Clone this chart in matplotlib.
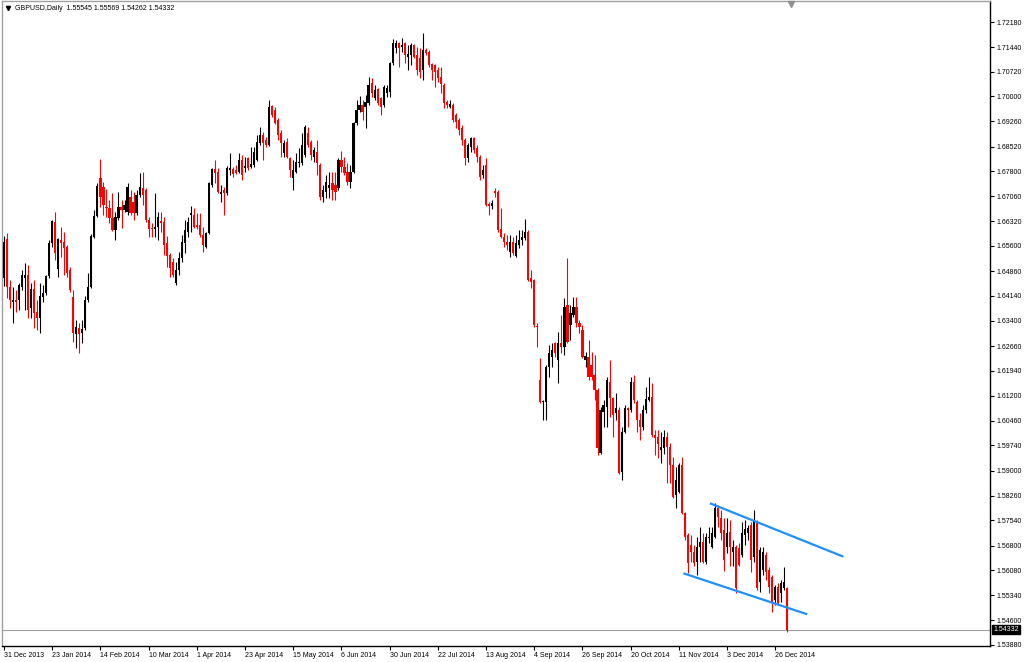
import matplotlib
matplotlib.use("Agg")
import matplotlib.pyplot as plt
from matplotlib.patches import Rectangle
from matplotlib.lines import Line2D
from matplotlib.transforms import blended_transform_factory

plt.rcParams['font.family'] = ['Liberation Sans', 'DejaVu Sans']

# ---------------- data (GBPUSD daily) ----------------
opens = [
    1.6466, 1.6580, 1.6439, 1.6395, 1.6401, 1.6401, 1.6439, 1.6466, 1.6475, 1.6378,
    1.6434, 1.6366, 1.6348, 1.6410, 1.6422, 1.6472, 1.6569, 1.6630, 1.6492, 1.6578,
    1.6572, 1.6557, 1.6489, 1.6410, 1.6301, 1.6319, 1.6304, 1.6319, 1.6401, 1.6439,
    1.6586, 1.6648, 1.6760, 1.6733, 1.6674, 1.6672, 1.6642, 1.6607, 1.6642, 1.6674,
    1.6666, 1.6660, 1.6704, 1.6689, 1.6657, 1.6710, 1.6730, 1.6724, 1.6636, 1.6613,
    1.6610, 1.6616, 1.6633, 1.6630, 1.6569, 1.6533, 1.6513, 1.6451, 1.6489, 1.6525,
    1.6569, 1.6601, 1.6651, 1.6651, 1.6622, 1.6622, 1.6592, 1.6557, 1.6598, 1.6739,
    1.6786, 1.6777, 1.6713, 1.6724, 1.6716, 1.6783, 1.6786, 1.6783, 1.6777, 1.6813,
    1.6789, 1.6818, 1.6792, 1.6798, 1.6813, 1.6862, 1.6886, 1.6871, 1.6857, 1.6971,
    1.6959, 1.6930, 1.6892, 1.6833, 1.6865, 1.6818, 1.6760, 1.6777, 1.6804, 1.6804,
    1.6827, 1.6892, 1.6865, 1.6821, 1.6836, 1.6798, 1.6704, 1.6719, 1.6730, 1.6745,
    1.6739, 1.6730, 1.6813, 1.6792, 1.6777, 1.6748, 1.6777, 1.6921, 1.6959, 1.6974,
    1.6968, 1.6980, 1.7039, 1.6995, 1.7021, 1.6995, 1.6974, 1.7009, 1.7012, 1.7097,
    1.7142, 1.7156, 1.7145, 1.7156, 1.7115, 1.7121, 1.7150, 1.7121, 1.7112, 1.7077,
    1.7136, 1.7130, 1.7095, 1.7092, 1.7077, 1.7056, 1.7033, 1.6983, 1.6968, 1.6974,
    1.6945, 1.6930, 1.6907, 1.6871, 1.6818, 1.6851, 1.6877, 1.6848, 1.6821, 1.6768,
    1.6798, 1.6683, 1.6677, 1.6722, 1.6719, 1.6610, 1.6586, 1.6572, 1.6542, 1.6572,
    1.6531, 1.6563, 1.6578, 1.6583, 1.6601, 1.6466, 1.6460, 1.6325, 1.6166, 1.6102,
    1.6102, 1.6204, 1.6234, 1.6275, 1.6225, 1.6275, 1.6263, 1.6387, 1.6328, 1.6357,
    1.6381, 1.6334, 1.6313, 1.6225, 1.6234, 1.6210, 1.6181, 1.6137, 1.5952, 1.6072,
    1.6087, 1.6160, 1.6113, 1.6069, 1.6078, 1.5896, 1.6013, 1.6084, 1.6078, 1.6160,
    1.6102, 1.6049, 1.6028, 1.6078, 1.6107, 1.6116, 1.6005, 1.5999, 1.5961, 1.5966,
    1.5999, 1.5969, 1.5917, 1.5829, 1.5837, 1.5917, 1.5776, 1.5711, 1.5682, 1.5661,
    1.5632, 1.5676, 1.5690, 1.5632, 1.5702, 1.5676, 1.5705, 1.5790, 1.5761, 1.5726,
    1.5676, 1.5720, 1.5661, 1.5676, 1.5673, 1.5652, 1.5711, 1.5717, 1.5740, 1.5646,
    1.5749, 1.5573, 1.5608, 1.5652, 1.5608, 1.5588, 1.5520, 1.5558, 1.5541, 1.5555,
    1.55545,
]
highs = [
    1.6589, 1.6598, 1.6460, 1.6439, 1.6431, 1.6451, 1.6489, 1.6510, 1.6504, 1.6451,
    1.6460, 1.6401, 1.6451, 1.6445, 1.6475, 1.6578, 1.6636, 1.6660, 1.6583, 1.6616,
    1.6601, 1.6563, 1.6498, 1.6431, 1.6342, 1.6334, 1.6342, 1.6413, 1.6481, 1.6595,
    1.6666, 1.6745, 1.6816, 1.6748, 1.6727, 1.6695, 1.6716, 1.6660, 1.6719, 1.6695,
    1.6695, 1.6745, 1.6724, 1.6719, 1.6724, 1.6774, 1.6777, 1.6730, 1.6645, 1.6627,
    1.6716, 1.6660, 1.6660, 1.6645, 1.6589, 1.6539, 1.6525, 1.6513, 1.6542, 1.6592,
    1.6636, 1.6645, 1.6677, 1.6672, 1.6657, 1.6657, 1.6616, 1.6601, 1.6748, 1.6789,
    1.6813, 1.6789, 1.6739, 1.6733, 1.6795, 1.6833, 1.6792, 1.6798, 1.6833, 1.6827,
    1.6821, 1.6821, 1.6851, 1.6851, 1.6886, 1.6909, 1.6895, 1.6880, 1.6989, 1.6974,
    1.6968, 1.6936, 1.6901, 1.6871, 1.6877, 1.6821, 1.6813, 1.6833, 1.6848, 1.6892,
    1.6915, 1.6909, 1.6871, 1.6851, 1.6871, 1.6804, 1.6739, 1.6768, 1.6777, 1.6777,
    1.6777, 1.6818, 1.6839, 1.6821, 1.6804, 1.6798, 1.6924, 1.6989, 1.7001, 1.6989,
    1.7004, 1.7056, 1.7053, 1.7033, 1.7024, 1.6998, 1.7033, 1.7033, 1.7100, 1.7168,
    1.7165, 1.7159, 1.7171, 1.7159, 1.7150, 1.7156, 1.7153, 1.7145, 1.7142, 1.7186,
    1.7142, 1.7136, 1.7097, 1.7095, 1.7086, 1.7086, 1.7039, 1.6989, 1.6989, 1.6980,
    1.6951, 1.6936, 1.6915, 1.6877, 1.6862, 1.6880, 1.6880, 1.6857, 1.6827, 1.6798,
    1.6818, 1.6689, 1.6695, 1.6730, 1.6724, 1.6672, 1.6598, 1.6592, 1.6592, 1.6586,
    1.6592, 1.6607, 1.6607, 1.6639, 1.6607, 1.6489, 1.6463, 1.6334, 1.6231, 1.6107,
    1.6210, 1.6269, 1.6275, 1.6278, 1.6307, 1.6357, 1.6407, 1.6525, 1.6387, 1.6410,
    1.6410, 1.6342, 1.6328, 1.6249, 1.6284, 1.6249, 1.6240, 1.6143, 1.6087, 1.6107,
    1.6175, 1.6225, 1.6116, 1.6128, 1.6087, 1.6028, 1.6093, 1.6087, 1.6175, 1.6181,
    1.6107, 1.6069, 1.6093, 1.6146, 1.6175, 1.6157, 1.6019, 1.6019, 1.6013, 1.6019,
    1.6013, 1.5981, 1.5940, 1.5911, 1.5923, 1.5940, 1.5778, 1.5717, 1.5711, 1.5682,
    1.5705, 1.5734, 1.5717, 1.5717, 1.5734, 1.5734, 1.5805, 1.5799, 1.5784, 1.5761,
    1.5761, 1.5755, 1.5696, 1.5682, 1.5687, 1.5749, 1.5755, 1.5740, 1.5749, 1.5784,
    1.5755, 1.5676, 1.5676, 1.5661, 1.5617, 1.5593, 1.5564, 1.5570, 1.5579, 1.5617,
    1.55569,
]
lows = [
    1.6442, 1.6407, 1.6378, 1.6334, 1.6366, 1.6372, 1.6431, 1.6372, 1.6348, 1.6348,
    1.6319, 1.6313, 1.6304, 1.6395, 1.6416, 1.6466, 1.6557, 1.6519, 1.6469, 1.6528,
    1.6475, 1.6469, 1.6425, 1.6278, 1.6260, 1.6246, 1.6275, 1.6313, 1.6395, 1.6437,
    1.6583, 1.6645, 1.6674, 1.6651, 1.6645, 1.6627, 1.6604, 1.6578, 1.6636, 1.6613,
    1.6660, 1.6651, 1.6651, 1.6636, 1.6651, 1.6704, 1.6680, 1.6630, 1.6586, 1.6586,
    1.6586, 1.6578, 1.6601, 1.6533, 1.6498, 1.6469, 1.6469, 1.6445, 1.6475, 1.6513,
    1.6539, 1.6586, 1.6601, 1.6613, 1.6610, 1.6586, 1.6542, 1.6554, 1.6595, 1.6733,
    1.6745, 1.6716, 1.6689, 1.6651, 1.6710, 1.6768, 1.6762, 1.6771, 1.6774, 1.6754,
    1.6777, 1.6783, 1.6789, 1.6792, 1.6810, 1.6857, 1.6813, 1.6851, 1.6854, 1.6939,
    1.6918, 1.6871, 1.6821, 1.6821, 1.6818, 1.6762, 1.6724, 1.6774, 1.6792, 1.6798,
    1.6821, 1.6851, 1.6813, 1.6807, 1.6768, 1.6695, 1.6689, 1.6701, 1.6701, 1.6695,
    1.6695, 1.6724, 1.6777, 1.6768, 1.6739, 1.6730, 1.6774, 1.6915, 1.6953, 1.6930,
    1.6907, 1.6974, 1.6998, 1.6989, 1.6974, 1.6945, 1.6968, 1.6998, 1.6998, 1.7092,
    1.7127, 1.7086, 1.7130, 1.7097, 1.7077, 1.7092, 1.7112, 1.7062, 1.7053, 1.7048,
    1.7121, 1.7086, 1.7048, 1.7027, 1.7042, 1.7009, 1.6965, 1.6965, 1.6965, 1.6924,
    1.6907, 1.6886, 1.6857, 1.6798, 1.6807, 1.6836, 1.6833, 1.6807, 1.6754, 1.6760,
    1.6677, 1.6651, 1.6669, 1.6704, 1.6601, 1.6583, 1.6557, 1.6548, 1.6528, 1.6533,
    1.6528, 1.6554, 1.6563, 1.6578, 1.6457, 1.6437, 1.6322, 1.6263, 1.6099, 1.6049,
    1.6049, 1.6175, 1.6204, 1.6234, 1.6157, 1.6246, 1.6240, 1.6275, 1.6284, 1.6351,
    1.6322, 1.6304, 1.6231, 1.6204, 1.6166, 1.6166, 1.6107, 1.5946, 1.5949, 1.6028,
    1.6028, 1.6058, 1.5999, 1.6049, 1.5890, 1.5872, 1.6011, 1.6028, 1.6072, 1.6099,
    1.6013, 1.5990, 1.6019, 1.6069, 1.6104, 1.5999, 1.5946, 1.5937, 1.5923, 1.5949,
    1.5864, 1.5864, 1.5820, 1.5790, 1.5834, 1.5773, 1.5696, 1.5599, 1.5632, 1.5620,
    1.5593, 1.5632, 1.5629, 1.5626, 1.5687, 1.5673, 1.5702, 1.5734, 1.5696, 1.5605,
    1.5658, 1.5620, 1.5620, 1.5541, 1.5620, 1.5646, 1.5682, 1.5696, 1.5602, 1.5632,
    1.5549, 1.5543, 1.5593, 1.5579, 1.5541, 1.5485, 1.5505, 1.5505, 1.5514, 1.5549,
    1.54262,
]
closes = [
    1.6572, 1.6439, 1.6401, 1.6401, 1.6395, 1.6445, 1.6475, 1.6475, 1.6372, 1.6434,
    1.6363, 1.6348, 1.6413, 1.6422, 1.6472, 1.6569, 1.6633, 1.6539, 1.6580, 1.6569,
    1.6554, 1.6480, 1.6431, 1.6304, 1.6322, 1.6301, 1.6316, 1.6401, 1.6439, 1.6589,
    1.6648, 1.6736, 1.6704, 1.6680, 1.6672, 1.6642, 1.6607, 1.6645, 1.6674, 1.6666,
    1.6680, 1.6733, 1.6657, 1.6657, 1.6710, 1.6733, 1.6710, 1.6636, 1.6610, 1.6610,
    1.6616, 1.6645, 1.6627, 1.6563, 1.6531, 1.6495, 1.6475, 1.6489, 1.6525, 1.6572,
    1.6607, 1.6630, 1.6657, 1.6616, 1.6616, 1.6592, 1.6563, 1.6598, 1.6745, 1.6786,
    1.6774, 1.6719, 1.6719, 1.6716, 1.6789, 1.6789, 1.6771, 1.6774, 1.6813, 1.6768,
    1.6795, 1.6789, 1.6801, 1.6836, 1.6865, 1.6886, 1.6862, 1.6857, 1.6968, 1.6945,
    1.6921, 1.6886, 1.6862, 1.6862, 1.6821, 1.6783, 1.6783, 1.6807, 1.6807, 1.6857,
    1.6909, 1.6857, 1.6827, 1.6842, 1.6804, 1.6704, 1.6724, 1.6748, 1.6739, 1.6724,
    1.6719, 1.6813, 1.6792, 1.6774, 1.6748, 1.6777, 1.6921, 1.6959, 1.6974, 1.6953,
    1.6983, 1.7033, 1.7009, 1.7018, 1.6980, 1.6968, 1.7027, 1.7024, 1.7097, 1.7156,
    1.7156, 1.7142, 1.7150, 1.7121, 1.7124, 1.7150, 1.7115, 1.7077, 1.7071, 1.7136,
    1.7127, 1.7092, 1.7077, 1.7071, 1.7053, 1.7036, 1.6980, 1.6974, 1.6977, 1.6930,
    1.6924, 1.6901, 1.6871, 1.6818, 1.6857, 1.6877, 1.6842, 1.6821, 1.6762, 1.6783,
    1.6680, 1.6677, 1.6686, 1.6716, 1.6607, 1.6586, 1.6572, 1.6563, 1.6572, 1.6539,
    1.6569, 1.6578, 1.6586, 1.6601, 1.6460, 1.6454, 1.6328, 1.6322, 1.6102, 1.6105,
    1.6204, 1.6246, 1.6254, 1.6246, 1.6275, 1.6263, 1.6381, 1.6278, 1.6363, 1.6381,
    1.6334, 1.6322, 1.6234, 1.6237, 1.6175, 1.6175, 1.6137, 1.5966, 1.6078, 1.6093,
    1.6166, 1.6113, 1.6063, 1.6084, 1.5893, 1.6013, 1.6084, 1.6078, 1.6160, 1.6107,
    1.6049, 1.6028, 1.6078, 1.6110, 1.6116, 1.6005, 1.5996, 1.5978, 1.5969, 1.5999,
    1.5969, 1.5917, 1.5823, 1.5872, 1.5917, 1.5776, 1.5705, 1.5629, 1.5661, 1.5629,
    1.5676, 1.5690, 1.5632, 1.5705, 1.5705, 1.5717, 1.5790, 1.5764, 1.5717, 1.5637,
    1.5717, 1.5676, 1.5676, 1.5555, 1.5623, 1.5717, 1.5728, 1.5731, 1.5637, 1.5755,
    1.5555, 1.5667, 1.5661, 1.5602, 1.5558, 1.5514, 1.5558, 1.5511, 1.5570, 1.5573,
    1.54332,
]

date_labels = ["31 Dec 2013", "23 Jan 2014", "14 Feb 2014", "10 Mar 2014", "1 Apr 2014",
               "23 Apr 2014", "15 May 2014", "6 Jun 2014", "30 Jun 2014", "22 Jul 2014",
               "13 Aug 2014", "4 Sep 2014", "26 Sep 2014", "20 Oct 2014", "11 Nov 2014",
               "3 Dec 2014", "26 Dec 2014"]
date_label_bars = [0, 16, 32, 48, 64, 80, 96, 112, 128, 144, 160, 176, 192, 208, 224, 240, 256]

price_ticks = [1.72180, 1.71440, 1.70720, 1.70000, 1.69260, 1.68520, 1.67800, 1.67060,
               1.66320, 1.65600, 1.64860, 1.64140, 1.63400, 1.62660, 1.61940, 1.61200,
               1.60460, 1.59740, 1.59000, 1.58260, 1.57540, 1.56800, 1.56080, 1.55340,
               1.54600, 1.53880]

symbol_title = "GBPUSD,Daily"
last_price = closes[-1]

# channel trend lines: (bar index, price) end points
upper_line_bars = [234.3, 278.6]
upper_line_prices = [1.58041, 1.56472]
lower_line_bars = [225.5, 266.6]
lower_line_prices = [1.55984, 1.54780]

# ---------------- figure ----------------
W, H = 1024, 662
fig = plt.figure(figsize=(W / 100, H / 100), dpi=100)
fig.patch.set_facecolor('white')
ax = fig.add_axes([2 / W, (H - 646) / H, 988 / W, 645 / H])
ax.set_facecolor('white')

bull_color = '#000000'
bear_color = '#FF0000'
body_w = 0.72
min_body = 0.00028
fs = 5.0

for i, (o, h, l, c) in enumerate(zip(opens, highs, lows, closes)):
    col = bull_color if c >= o else bear_color
    hi = max(h, o, c)
    lo = min(l, o, c)
    ax.vlines(i, lo, hi, color=col, linewidth=0.8, zorder=2)
    bottom = min(o, c)
    height = max(abs(c - o), min_body)
    ax.add_patch(Rectangle((i - body_w / 2, bottom), body_w, height,
                           facecolor=col, edgecolor='none', linewidth=0, zorder=3))

# last price line
ax.axhline(last_price, color='#A0A0A0', linewidth=0.8, zorder=1)

# channel lines
ax.plot(upper_line_bars, upper_line_prices, color='#1E90FF', linewidth=1.6,
        solid_capstyle='butt', zorder=4)
ax.plot(lower_line_bars, lower_line_prices, color='#1E90FF', linewidth=1.6,
        solid_capstyle='butt', zorder=4)

ax.set_xlim(-0.664, 327.25)
ax.set_ylim(1.53848, 1.72797)

# y axis on the right
ax.yaxis.tick_right()
ax.set_yticks(price_ticks)
ax.set_yticklabels([f"{p:.5f}" for p in price_ticks])
ax.tick_params(axis='y', which='both', direction='out', length=3, width=0.8,
               pad=1.5, labelsize=fs, colors='black', left=False, right=True)

# x axis
ax.set_xticks(date_label_bars)
ax.set_xticklabels(date_labels, ha='left')
ax.tick_params(axis='x', which='both', direction='out', length=3, width=0.8,
               pad=1.5, labelsize=fs, colors='black')

for side in ['left', 'top']:
    ax.spines[side].set_color('#A0A0A0')
    ax.spines[side].set_linewidth(1.0)
for side in ['right', 'bottom']:
    ax.spines[side].set_color('black')
    ax.spines[side].set_linewidth(1.0)

# last price label box
trans = blended_transform_factory(ax.transAxes, ax.transData)
ax.text(1.0035, last_price, f"{last_price:.5f}", transform=trans, ha='left', va='center',
        fontsize=fs, color='white', clip_on=False, zorder=10,
        bbox=dict(boxstyle='square,pad=0.2', facecolor='black', edgecolor='black'))

# header
header = f"{symbol_title}  {opens[-1]:.5f} {highs[-1]:.5f} {lows[-1]:.5f} {closes[-1]:.5f}"
fig.text(15 / W, 1 - 9 / H, header, fontsize=fs, ha='left', va='center', color='black')
fig.add_artist(Line2D([8 / W], [1 - 8 / H], marker='v', markersize=3, color='black',
                      linestyle='none', transform=fig.transFigure))
# chart shift marker
fig.add_artist(Line2D([791 / W], [1 - 4 / H], marker='v', markersize=5, color='#909090',
                      linestyle='none', transform=fig.transFigure))

fig.savefig('out.png', dpi=100, facecolor='white')
